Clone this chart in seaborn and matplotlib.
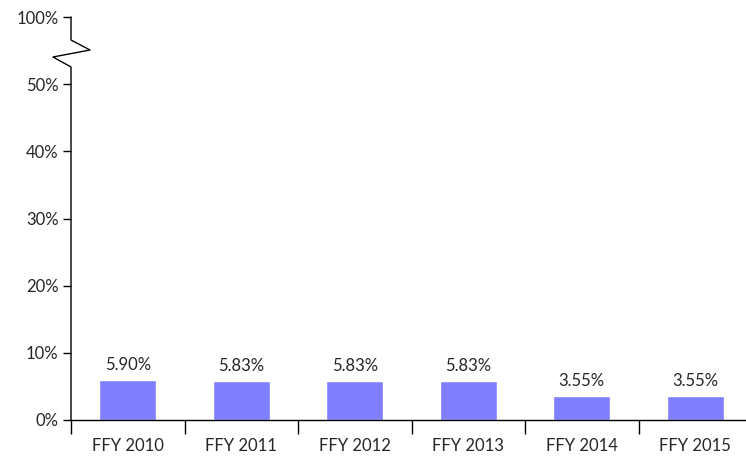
import matplotlib
matplotlib.use("Agg")
import matplotlib.pyplot as plt
import matplotlib.transforms as mtrans
import numpy as np
import pandas as pd
import seaborn as sns

years = ["FFY 2010", "FFY 2011", "FFY 2012", "FFY 2013", "FFY 2014", "FFY 2015"]
rates = [5.90, 5.83, 5.83, 5.83, 3.55, 3.55]
ytick_vals = [0, 10, 20, 30, 40, 50, 60]
ytick_labels = ["0%", "10%", "20%", "30%", "40%", "50%", "100%"]

sns.set_style("ticks")
plt.rcParams["font.family"] = ["Lato", "DejaVu Sans"]

df = pd.DataFrame({"year": years, "rate": rates})

fig = plt.figure(figsize=(7.46, 4.58), dpi=100)
W, H = 746, 458
ax = fig.add_axes([71 / W, 38 / H, 681 / W, 403 / H])

sns.barplot(data=df, x="year", y="rate", color="#7f7fff", saturation=1,
            width=0.5, ax=ax)

ax.set_xlim(-0.5, 5.5)
ax.set_ylim(0, 60)
ax.set_yticks(ytick_vals)
ax.set_yticklabels(ytick_labels, fontsize=12)
ax.set_xlabel("")
ax.set_ylabel("")

# labels above bars
ax.bar_label(ax.containers[0], labels=[f"{v:.2f}%" for v in rates],
             padding=5, fontsize=12)

# category ticks between bars
ax.set_xticks(np.arange(len(years)))
ax.set_xticklabels(years, fontsize=12)
ax.tick_params(axis="x", which="major", length=0, pad=13)
ax.set_xticks(np.arange(-0.5, len(years), 1), minor=True)
ax.tick_params(axis="x", which="minor", length=10, width=1, color="black")
ax.tick_params(axis="y", length=6, width=1, color="black", pad=3)

for s in ["top", "right", "left"]:
    ax.spines[s].set_visible(False)
ax.spines["bottom"].set_color("black")
ax.spines["bottom"].set_linewidth(1)

# broken y axis line with zigzag
trans = mtrans.blended_transform_factory(ax.transAxes, ax.transData)
dx = 1 / 681
zx = [0, 0, 19 * dx, -18 * dx, 0, 0]
zy = [60, 60 - 23 / 6.717, 60 - 33 / 6.717, 60 - 40 / 6.717, 60 - 50 / 6.717, 0]
ax.plot(zx, zy, color="black", lw=1, transform=trans, clip_on=False)

ax.grid(False)
fig.savefig("out.png", dpi=100)
